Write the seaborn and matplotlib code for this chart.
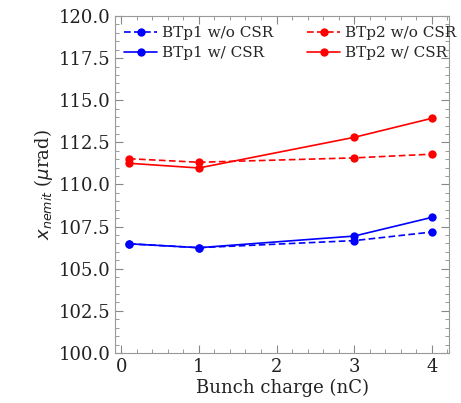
import matplotlib
matplotlib.use("Agg")
import matplotlib.pyplot as plt
import seaborn as sns
import pandas as pd
from matplotlib.ticker import AutoMinorLocator

charge = [0.1, 1, 3, 4]
btp1_wo = [106.48, 106.25, 106.67, 107.18]
btp1_w = [106.48, 106.25, 106.94, 108.05]
btp2_wo = [111.53, 111.32, 111.58, 111.8]
btp2_w = [111.26, 110.98, 112.8, 113.93]

sns.set_style("white")
plt.rcParams['font.family'] = ['DejaVu Serif']
plt.rcParams['mathtext.fontset'] = 'dejavusans'

fig = plt.figure(figsize=(4.61, 4.03), dpi=100)
ax = fig.add_axes([115/461, 1-353/403, (449-115)/461, (353-16)/403])

series = [
    ("BTp1 w/o CSR", btp1_wo, "blue", True),
    ("BTp1 w/ CSR", btp1_w, "blue", False),
    ("BTp2 w/o CSR", btp2_wo, "red", True),
    ("BTp2 w/ CSR", btp2_w, "red", False),
]
for name, vals, col, dashed in series:
    df = pd.DataFrame({"x": charge, "y": vals})
    sns.lineplot(data=df, x="x", y="y", ax=ax, color=col, marker="o",
                 markersize=6, markeredgewidth=0, linewidth=1.2, label=name)
for l, (name, vals, col, dashed) in zip(ax.get_lines(), series):
    if dashed:
        l.set_linestyle((0, (4, 2)))

ax.set_xlim(-0.08, 4.22)
ax.set_ylim(100, 120)
ax.set_yticks([100, 102.5, 105, 107.5, 110, 112.5, 115, 117.5, 120])
ax.set_xticks([0, 1, 2, 3, 4])
ax.xaxis.set_minor_locator(AutoMinorLocator(5))
ax.yaxis.set_minor_locator(AutoMinorLocator(5))
ax.yaxis.set_major_formatter(matplotlib.ticker.FormatStrFormatter('%.1f'))
ax.tick_params(which='both', direction='in', top=True, right=True, bottom=True, left=True,
               colors='#888888', labelcolor='#222222', labelsize=13)
ax.tick_params(which='major', length=6, width=0.8)
ax.tick_params(which='minor', length=3, width=0.6)
for s in ax.spines.values():
    s.set_color('#999999')
ax.set_xlabel("Bunch charge (nC)", fontsize=13, color='#222222', labelpad=2)
ax.set_ylabel(r"$x_{nemit}$ ($\mu$rad)", fontsize=13, color='#222222', labelpad=2)

handles, labels = ax.get_legend_handles_labels()
ax.legend(handles, labels, ncol=2, frameon=False, loc='upper left',
          bbox_to_anchor=(-0.015, 1.01), fontsize=11, columnspacing=2.2,
          handlelength=2.2, handletextpad=0.3, labelspacing=0.4)

fig.savefig("out.png", dpi=100)
